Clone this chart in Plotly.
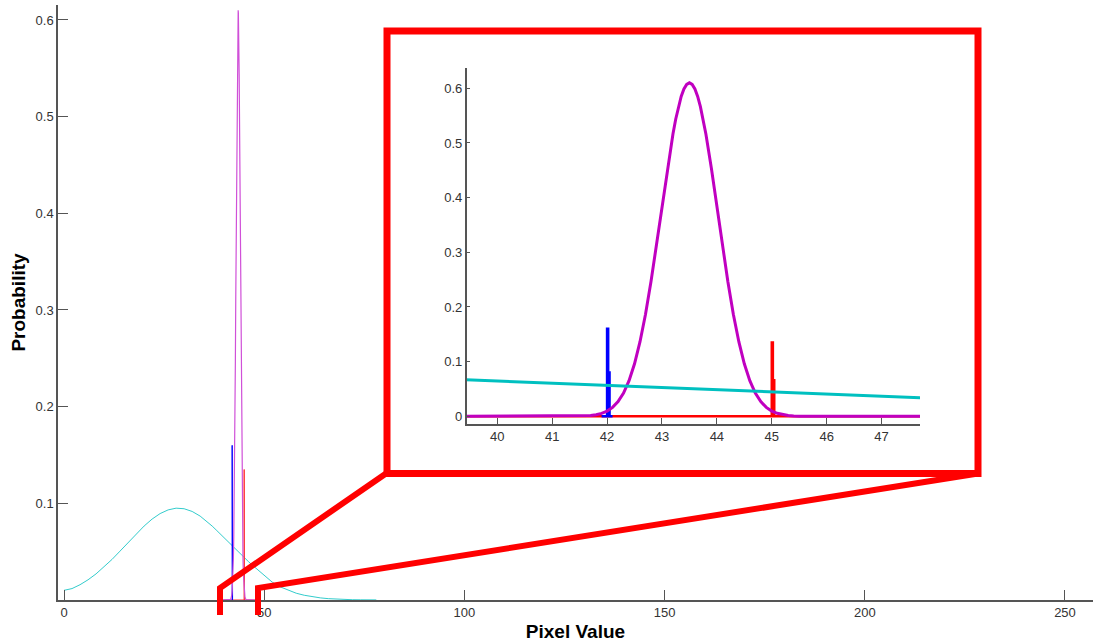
import plotly.graph_objects as go

# ---------------- data ----------------
cyan_x = [0, 2, 4, 6, 8, 10, 12, 14, 16, 18, 20, 22, 24, 26, 28, 30, 32, 34, 36,
          37, 38, 39, 40, 41, 42, 43, 44, 45, 46, 47, 48, 49, 50,
          52, 54, 56, 58, 60, 62, 64, 66, 68, 70, 72, 74, 76, 78]
cyan_y = [0.0100, 0.0118, 0.0158, 0.0209, 0.0270, 0.0341, 0.0420, 0.0506, 0.0595,
          0.0683, 0.0765, 0.0837, 0.0894, 0.0932, 0.0950, 0.0944, 0.0916, 0.0868,
          0.0803, 0.0765, 0.0725, 0.0683, 0.0650, 0.0605, 0.0565, 0.0520, 0.0478,
          0.0440, 0.0400, 0.0362, 0.0325, 0.0290, 0.0255,
          0.0185, 0.0136, 0.0099, 0.0070, 0.0049, 0.0033, 0.0022, 0.0014, 0.0009,
          0.0005, 0.0003, 0.0002, 0.0001, 0.0001]

mag_x = [39.0, 41.5, 41.6, 41.7, 41.8, 41.9, 42.0, 42.1, 42.2, 42.3, 42.4, 42.5,
         42.6, 42.7, 42.8, 42.9, 43.0, 43.1, 43.2, 43.25, 43.3, 43.35, 43.4, 43.45,
         43.5, 43.55, 43.6, 43.65, 43.7, 43.75,
         43.8, 43.9, 44.0, 44.1, 44.2, 44.3, 44.4, 44.5, 44.6, 44.7, 44.8, 44.9,
         45.0, 45.1, 45.2, 45.3, 45.4, 45.5, 48.0]
mag_y = [0.0, 0.0003, 0.0007, 0.0015, 0.0029, 0.0054, 0.0095, 0.0163, 0.0268,
         0.0426, 0.0651, 0.0960, 0.1364, 0.1868, 0.2465, 0.3135, 0.3842, 0.4538,
         0.5165, 0.5435, 0.5665, 0.5852, 0.5988, 0.6072,
         0.6100, 0.6072, 0.5988, 0.5852, 0.5665, 0.5435,
         0.5165, 0.4538, 0.3842,
         0.3135, 0.2465, 0.1868, 0.1364, 0.0960, 0.0651, 0.0426, 0.0268, 0.0163,
         0.0095, 0.0054, 0.0029, 0.0015, 0.0007, 0.0003, 0.0]

blue_x = [41.9, 42.0, 42.0, 42.02, 42.02, 42.045, 42.045, 42.1]
blue_y = [0.0, 0.0, 0.160, 0.160, 0.080, 0.080, 0.0, 0.0]

red_x = [39.0, 45.0, 45.0, 45.02, 45.02, 45.045, 45.045, 48.0]
red_y = [0.0, 0.0, 0.135, 0.135, 0.066, 0.066, 0.0, 0.0]

main_xticks = [0, 50, 100, 150, 200, 250]
main_yticks = [0.1, 0.2, 0.3, 0.4, 0.5, 0.6]
inset_xticks = [40, 41, 42, 43, 44, 45, 46, 47]
inset_yticks = [0, 0.1, 0.2, 0.3, 0.4, 0.5, 0.6]

# ---------------- layout helpers ----------------
W, H = 1094, 643
def fx(p):
    return p / W
def fy(p):
    return 1 - p / H

fig = go.Figure()

# main axes traces
fig.add_trace(go.Scatter(x=cyan_x, y=cyan_y, mode="lines",
                         line=dict(color="#33cccc", width=1), xaxis="x", yaxis="y"))
fig.add_trace(go.Scatter(x=red_x, y=red_y, mode="lines",
                         line=dict(color="#ff3030", width=1), xaxis="x", yaxis="y"))
fig.add_trace(go.Scatter(x=blue_x, y=blue_y, mode="lines",
                         line=dict(color="#0000ff", width=1), xaxis="x", yaxis="y"))
fig.add_trace(go.Scatter(x=mag_x, y=mag_y, mode="lines",
                         line=dict(color="#d050d8", width=1.2), xaxis="x", yaxis="y"))

# inset traces
fig.add_trace(go.Scatter(x=red_x, y=red_y, mode="lines",
                         line=dict(color="#ff0000", width=2.5), xaxis="x2", yaxis="y2"))
fig.add_trace(go.Scatter(x=blue_x, y=blue_y, mode="lines",
                         line=dict(color="#0000ff", width=2.5), xaxis="x2", yaxis="y2"))
fig.add_trace(go.Scatter(x=mag_x, y=mag_y, mode="lines",
                         line=dict(color="#c000c0", width=3), xaxis="x2", yaxis="y2"))
fig.add_trace(go.Scatter(x=cyan_x, y=cyan_y, mode="lines",
                         line=dict(color="#00c0c0", width=3), xaxis="x2", yaxis="y2"))

tickfont = dict(family="Liberation Sans, Arial, sans-serif", size=13, color="#333333")
titlefont = dict(family="Liberation Sans, Arial, sans-serif", size=19, color="#000000",
                 weight="bold")
axcol = "#555555"

red = "#ff0000"
shapes = [
    dict(type="rect", xref="paper", yref="paper",
         x0=fx(387), x1=fx(978), y0=fy(473.5), y1=fy(31),
         line=dict(color=red, width=7)),
    dict(type="path", xref="paper", yref="paper",
         path=f"M {fx(386)} {fy(473.5)} L {fx(220)} {fy(588)} L {fx(220)} {fy(615)}",
         line=dict(color=red, width=6)),
    dict(type="path", xref="paper", yref="paper",
         path=f"M {fx(978)} {fy(473.5)} L {fx(258)} {fy(588)} L {fx(258)} {fy(615)}",
         line=dict(color=red, width=6)),
]

fig.update_layout(
    width=W, height=H,
    margin=dict(l=0, r=0, t=0, b=0),
    paper_bgcolor="white", plot_bgcolor="white",
    showlegend=False, hovermode=False,
    xaxis=dict(domain=[fx(58), fx(1093)], range=[-1.5, 257], anchor="y",
               showgrid=False, zeroline=False, showline=True, linecolor=axcol, linewidth=1.5,
               ticks="inside", ticklen=10, tickwidth=1.2, tickcolor=axcol,
               tickvals=main_xticks, ticktext=[str(v) for v in main_xticks],
               tickfont=tickfont,
               title=dict(text="Pixel Value", font=titlefont, standoff=5)),
    yaxis=dict(domain=[fy(600), fy(5)], range=[0, 0.6155], anchor="x",
               showgrid=False, zeroline=False, showline=True, linecolor=axcol, linewidth=1.5,
               ticks="inside", ticklen=10, tickwidth=1.2, tickcolor=axcol,
               tickvals=main_yticks, ticktext=[f"{v:.1f}" for v in main_yticks],
               tickfont=tickfont,
               title=dict(text="Probability", font=titlefont, standoff=5)),
    xaxis2=dict(domain=[fx(466.7), fx(920)], range=[39.443, 47.70], anchor="y2",
                showgrid=False, zeroline=False, showline=True, linecolor=axcol, linewidth=1.5,
                ticks="inside", ticklen=6, tickwidth=1.2, tickcolor=axcol,
                tickvals=inset_xticks, ticktext=[str(v) for v in inset_xticks],
                tickfont=tickfont),
    yaxis2=dict(domain=[fy(424), fy(67.7)], range=[-0.0141, 0.6377], anchor="x2",
                showgrid=False, zeroline=False, showline=True, linecolor=axcol, linewidth=1.5,
                ticks="inside", ticklen=4, tickwidth=1.2, tickcolor=axcol,
                tickvals=inset_yticks,
                ticktext=["0"] + [f"{v:.1f}" for v in inset_yticks[1:]],
                tickfont=tickfont),
    shapes=shapes,
)

fig.write_html("out.html")
